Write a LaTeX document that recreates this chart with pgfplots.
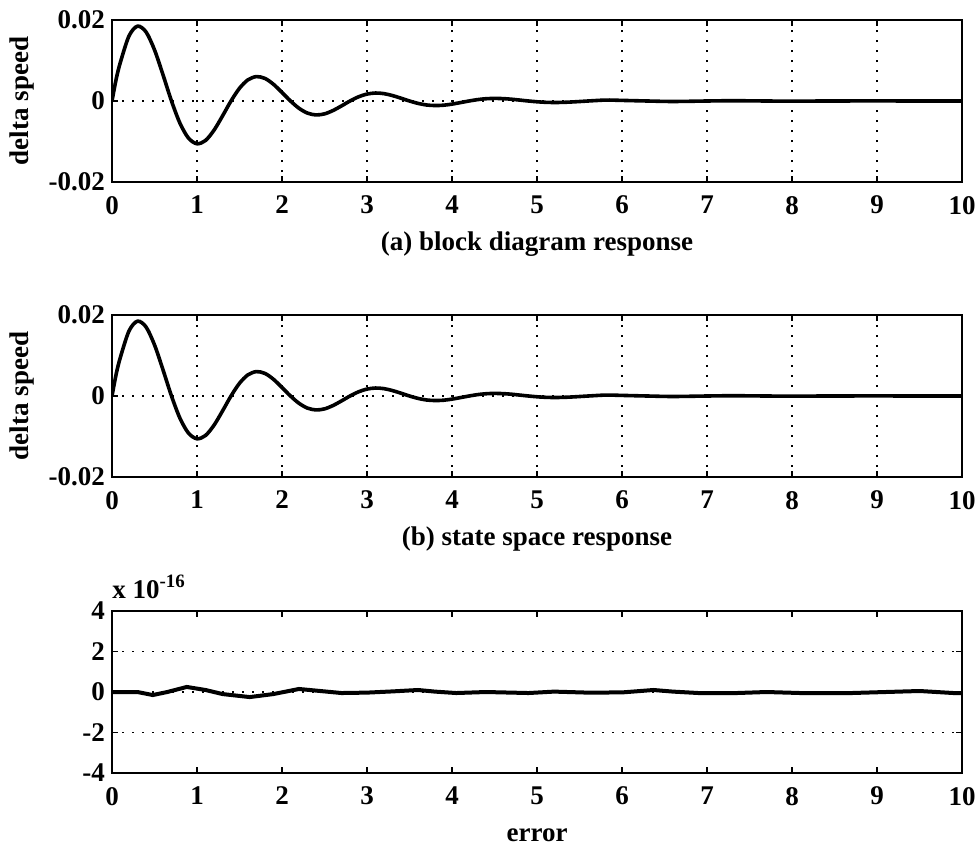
\documentclass[border=0pt]{standalone}
\usepackage{fontspec}
\setmainfont{Liberation Serif}
\usepackage{pgfplots}
\usepackage{pgfplotstable}
\pgfplotsset{compat=1.18}
\newcommand{\myfont}{\fontsize{13.5}{15}\selectfont\bfseries}

\pgfplotstableread{
t y
0 0
0.05 0.0055
0.1 0.00965
0.2 0.01606
0.3 0.01848
0.4 0.01706
0.5 0.01263
0.6 0.00647
0.7 0
0.8 -0.00551
0.9 -0.00917
1.0 -0.01056
1.1 -0.00975
1.2 -0.00721
1.3 -0.00370
1.4 0
1.5 0.00315
1.6 0.00524
1.7 0.00603
1.8 0.00557
1.9 0.00412
2.0 0.00211
2.1 0
2.2 -0.00180
2.3 -0.00299
2.4 -0.00344
2.5 -0.00318
2.6 -0.00235
2.7 -0.00121
2.8 0
2.9 0.00103
3.0 0.00171
3.1 0.00197
3.2 0.00182
3.3 0.00134
3.4 0.00069
3.5 0
3.6 -0.00059
3.7 -0.00098
3.8 -0.00112
3.9 -0.00104
4.0 -0.00077
4.1 -0.00039
4.2 0
4.3 0.00034
4.4 0.00056
4.5 0.00064
4.6 0.00059
4.7 0.00044
4.8 0.00022
4.9 0
5.0 -0.00019
5.1 -0.00032
5.2 -0.00037
5.3 -0.00034
5.4 -0.00025
5.5 -0.00013
5.6 0
5.8 0.00023
5.9 0.00021
6.0 0.00015
6.3 0
6.6 -0.00012
7.0 0
7.3 0.00007
7.7 0
8.0 -0.00004
8.4 0
9.0 0.00002
9.5 0
10 0
}\resp

\pgfplotstableread{
t e
0 0
0.3 0
0.48 -0.15
0.65 0
0.88 0.25
1.1 0.1
1.3 -0.1
1.62 -0.25
1.9 -0.1
2.2 0.15
2.45 0.05
2.7 -0.05
3.0 -0.03
3.3 0.03
3.6 0.1
3.8 0.02
4.05 -0.05
4.4 0
4.9 -0.05
5.2 0.02
5.6 -0.03
6.0 -0.02
6.37 0.1
6.6 0.02
6.9 -0.05
7.35 -0.05
7.7 0
8.1 -0.05
8.7 -0.05
9.1 0
9.5 0.05
9.9 -0.05
10 -0.05
}\err

\pgfplotsset{
  myax/.style={
    scale only axis, width=425pt, height=81pt,
    xmin=0, xmax=10,
    xtick={0,1,2,3,4,5,6,7,8,9,10},
    xticklabels={0,1,2,3,4,5,6,7,8,9,10},
    scaled y ticks=false, scaled x ticks=false,
    axis line style={line width=1pt, black},
    tick style={line width=0.8pt, black},
    major tick length=3pt,
    tick align=inside,
    ticklabel style={font=\myfont},
    xticklabel style={yshift=-3.5pt},
    label style={font=\myfont},
    grid style={black, line width=0.8pt, dash pattern=on 0.8pt off 4.2pt},
    xlabel style={at={(axis description cs:0.5,0)}, anchor=center, yshift=-31pt},
    ylabel style={at={(axis description cs:0,0.5)}, anchor=center, yshift=45pt},
    anchor=north west,
  },
  respax/.style={
    myax,
    ymin=-0.02, ymax=0.02,
    ytick={-0.02,0,0.02},
    yticklabels={-0.02,0,0.02},
    xmajorgrids, ymajorgrids,
    ylabel={delta speed},
  }
}

\begin{document}
\begin{tikzpicture}
\path[use as bounding box] (0,0) rectangle (489.5pt,-423pt);

\begin{axis}[respax, at={(56pt,-10pt)}, xlabel={(a) block diagram response}]
\addplot[black, line width=1.8pt, smooth] table[x=t,y=y]{\resp};
\end{axis}

\begin{axis}[respax, at={(56pt,-157.5pt)}, xlabel={(b) state space response}]
\addplot[black, line width=1.8pt, smooth] table[x=t,y=y]{\resp};
\end{axis}

\begin{axis}[myax, name=errax, at={(56pt,-305.5pt)}, xlabel={error},
  ymin=-4, ymax=4, ytick={-4,-2,0,2,4}, yticklabels={-4,-2,0,2,4},
  ymajorgrids]
\addplot[black, line width=2pt] table[x=t,y=e]{\err};
\end{axis}
\node[anchor=south west, inner sep=0pt, font=\myfont] at ([yshift=6pt]errax.north west) {x 10\textsuperscript{-16}};
\end{tikzpicture}
\end{document}
